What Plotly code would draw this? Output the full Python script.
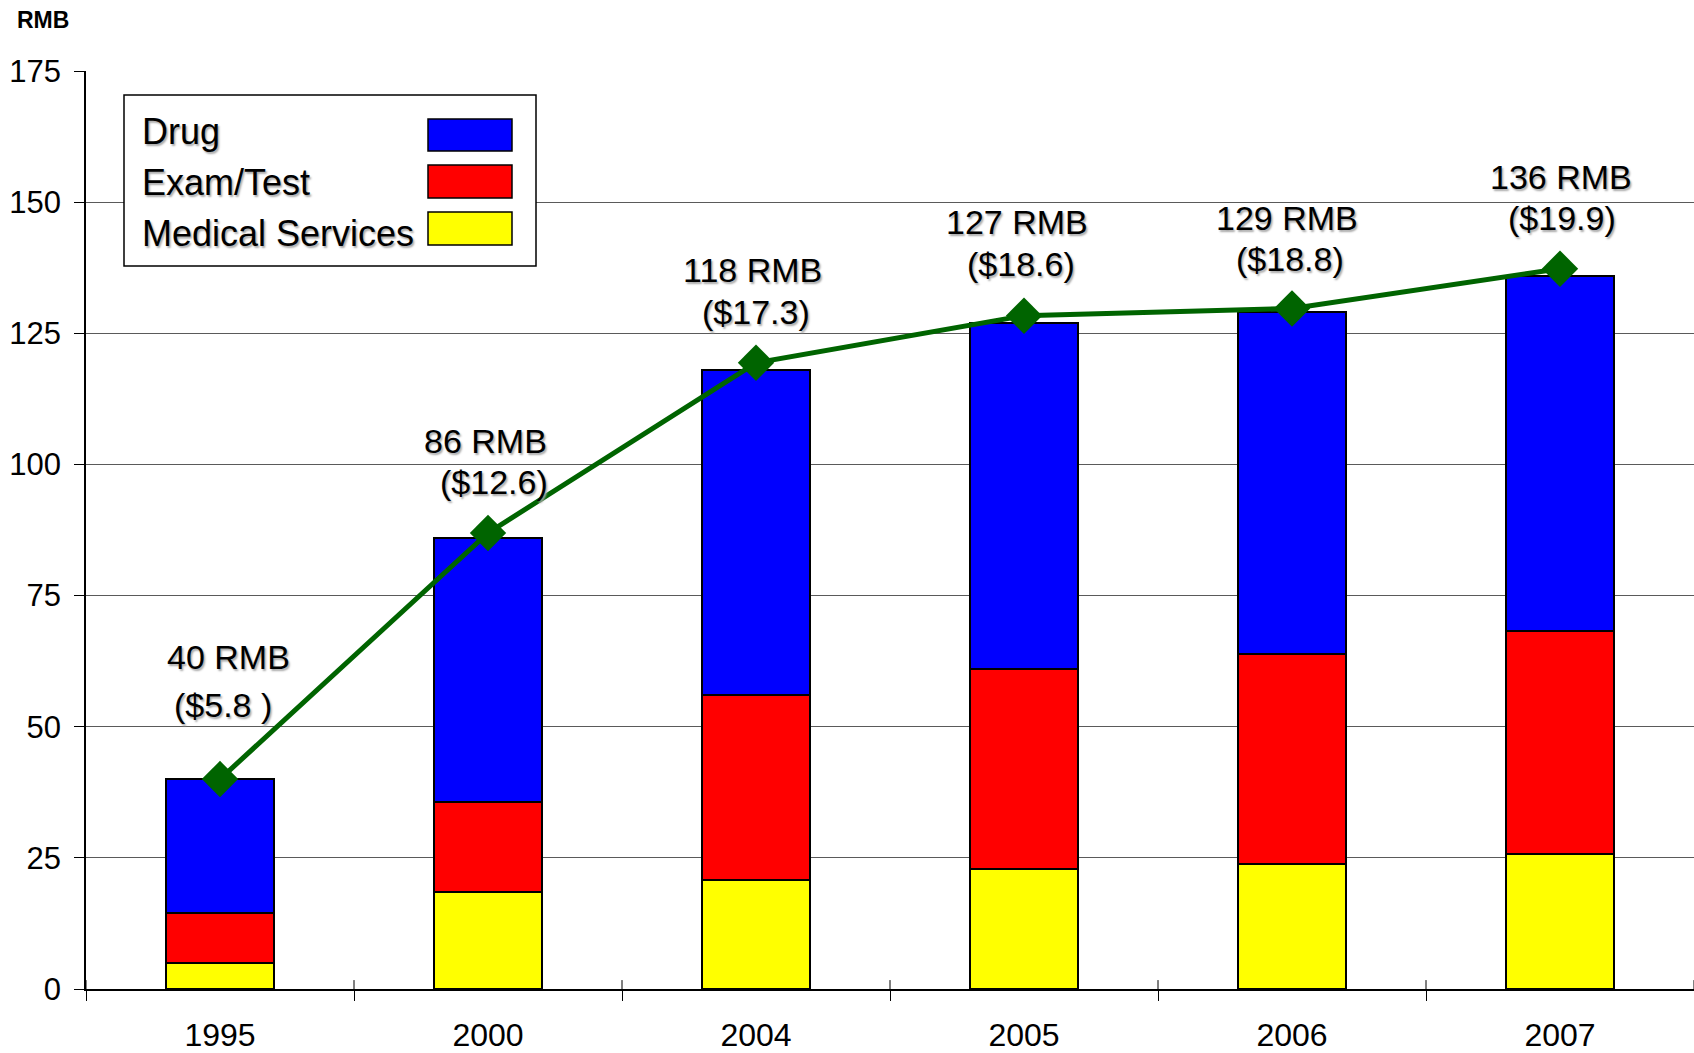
import plotly.graph_objects as go

# Average outpatient cost per visit, split by component (RMB)
years = ["1995", "2000", "2004", "2005", "2006", "2007"]
medical_services = [5.0, 18.4, 20.8, 22.9, 23.8, 25.7]
exam_test = [9.5, 17.2, 35.2, 38.1, 40.0, 42.5]
drug = [25.5, 50.4, 62.0, 66.0, 65.2, 67.8]

# Totals per visit in RMB and in US dollars
total_rmb = [40, 86, 118, 127, 129, 136]
total_usd = [5.8, 12.6, 17.3, 18.6, 18.8, 19.9]
usd_labels = ["($5.8 )", "($12.6)", "($17.3)", "($18.6)", "($18.8)", "($19.9)"]

y_ticks = [0, 25, 50, 75, 100, 125, 150, 175]

FONT = "Arial, Liberation Sans, sans-serif"
BLUE, RED, YELLOW, GREEN = "#0000FF", "#FF0000", "#FFFF00", "#006400"

W, H = 1694, 1053
M_L, M_R, M_T, M_B = 86, 0, 71, 64
PW, PH = W - M_L - M_R, H - M_T - M_B
Y_MAX = 175
RMB_PER_USD = 6.9


def px_x(px):
    return (px - M_L) / PW


def px_y(py):
    return (H - M_B - py) / PH


fig = go.Figure()

bar_line = dict(color="black", width=2)
for name, vals, col in [("Medical Services", medical_services, YELLOW),
                        ("Exam/Test", exam_test, RED),
                        ("Drug", drug, BLUE)]:
    fig.add_trace(go.Bar(x=years, y=vals, name=name, width=0.40,
                         marker=dict(color=col, line=bar_line),
                         showlegend=False, hoverinfo="x+y+name"))

# Dollar totals on a secondary axis scaled to the RMB axis (axis itself not drawn)
fig.add_trace(go.Scatter(x=years, y=total_usd, yaxis="y2", mode="lines+markers",
                         line=dict(color=GREEN, width=5),
                         marker=dict(symbol="diamond", size=28, color=GREEN),
                         showlegend=False, name="US$"))

shadow = "1.5px 1.5px 2px #a8a8a8"
label_font = dict(family=FONT, size=34, color="black", shadow=shadow)

# vertical / horizontal offsets (px) of the two label lines relative to each diamond
line2_dy = [74, 51, 51, 52, 50, 51]
line1_dy = [122, 92, 93, 94, 91, 92]
line1_dx = [8, -3, -4, -7, -5, 1]
line2_dx = [3, 6, 0, -3, -2, 2]

annotations = []
for i in range(len(years)):
    # diamond height expressed on the RMB axis
    y_pt = total_usd[i] * RMB_PER_USD
    annotations.append(dict(x=i, y=y_pt, xref="x", yref="y",
                            text=f"{total_rmb[i]} RMB", showarrow=False,
                            xanchor="center", yanchor="middle",
                            xshift=line1_dx[i], yshift=line1_dy[i], font=label_font))
    annotations.append(dict(x=i, y=y_pt, xref="x", yref="y",
                            text=usd_labels[i], showarrow=False,
                            xanchor="center", yanchor="middle",
                            xshift=line2_dx[i], yshift=line2_dy[i], font=label_font))

# axis unit caption
annotations.append(dict(x=px_x(15), y=px_y(19.5), xref="paper", yref="paper",
                        text="<b>RMB</b>", showarrow=False, xanchor="left", yanchor="middle",
                        font=dict(family=FONT, size=23, color="black")))

# legend: text on the left, colour swatch on the right
shapes = []
shapes.append(dict(type="rect", xref="paper", yref="paper",
                   x0=px_x(124), x1=px_x(536), y0=px_y(95), y1=px_y(266),
                   line=dict(color="black", width=1.5), fillcolor="white", layer="above"))
legend_rows = [("Drug", BLUE, 132, 119, 151),
               ("Exam/Test", RED, 182.6, 165, 198),
               ("Medical Services", YELLOW, 233.4, 212, 245)]
for text, col, yc, y0, y1 in legend_rows:
    shapes.append(dict(type="rect", xref="paper", yref="paper",
                       x0=px_x(428), x1=px_x(512), y0=px_y(y1), y1=px_y(y0),
                       line=dict(color="black", width=1.5), fillcolor=col, layer="above"))
    annotations.append(dict(x=px_x(140), y=px_y(yc), xref="paper", yref="paper",
                            text=text, showarrow=False, xanchor="left", yanchor="middle",
                            font=dict(family=FONT, size=36, color="black", shadow=shadow)))

# category separators crossing the baseline
for k in range(len(years) + 1):
    shapes.append(dict(type="line", xref="x", yref="y", x0=k - 0.5, x1=k - 0.5,
                       y0=0, y1=1.7, line=dict(color="black", width=1)))

fig.update_layout(
    width=W, height=H,
    margin=dict(l=M_L, r=M_R, t=M_T, b=M_B, pad=0),
    paper_bgcolor="white", plot_bgcolor="white",
    barmode="stack", bargap=0.6,
    font=dict(family=FONT, color="black"),
    xaxis=dict(type="category", range=[-0.5, len(years) - 0.5],
               tickson="boundaries", ticks="outside", ticklen=10, tickwidth=1,
               tickcolor="black", showline=True, linecolor="black", linewidth=1.5,
               showgrid=False, tickfont=dict(size=32, family=FONT),
               ticklabelstandoff=17, zeroline=False),
    yaxis=dict(range=[0, Y_MAX], tickvals=y_ticks, ticks="outside", ticklen=10,
               tickcolor="black", showline=True, linecolor="black", linewidth=1.5,
               showgrid=True, gridcolor="#5a5a5a", gridwidth=1,
               tickfont=dict(size=31, family=FONT), ticklabelstandoff=7,
               zeroline=False),
    yaxis2=dict(overlaying="y", side="right", range=[0, Y_MAX / RMB_PER_USD],
                showticklabels=False, ticks="", showline=False,
                showgrid=False, zeroline=False),
    shapes=shapes,
    annotations=annotations,
    showlegend=False,
)

fig.write_html("out.html")
